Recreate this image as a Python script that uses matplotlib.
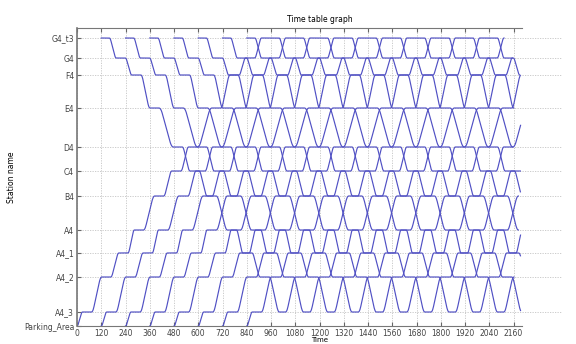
import numpy as np
import matplotlib
matplotlib.use("Agg")
import matplotlib.pyplot as plt

# stations, bottom to top, and their position along the line
stations = ['Parking_Area', 'A4_3', 'A4_2', 'A4_1', 'A4', 'B4', 'C4',
            'D4', 'E4', 'F4', 'G4', 'G4_t3']
station_pos = [0, 14, 49, 73, 96, 130, 155, 179, 218, 251, 268, 288]

# running time (s) between neighbouring stations, same both ways
run_times = [27, 50, 40, 32, 55, 40, 38, 70, 45, 32, 34]
dwell = 45          # stop at every intermediate station
turn_top = 87       # turnaround at G4_t3
turn_bottom = 31    # turnaround at A4_3
t_end = 2195

# trains leaving the parking area (up) and G4_t3 (down)
up_departures = [0, 120, 240, 360, 480, 600, 720, 840]
down_departures = [160, 280, 400, 520, 640, 760, 880]
first_wait = 40     # down trains sit at G4_t3 before leaving

xticks = list(range(0, 2161, 120))


def ease(u, a=0.25):
    # trapezoidal speed profile -> rounded corners at the stops
    out = np.empty_like(u)
    k = 2 * a * (1 - a)
    m1 = u < a
    m3 = u > 1 - a
    m2 = ~(m1 | m3)
    out[m1] = u[m1] ** 2 / k
    out[m2] = (u[m2] - a / 2) / (1 - a)
    out[m3] = 1 - (1 - u[m3]) ** 2 / k
    return out


def train_path(t0, start, wait=0):
    T, Y = [], []
    t = t0
    idx = start
    if wait:
        T += [t - wait, t]
        Y += [station_pos[idx]] * 2
    direction = 1 if start == 0 else -1
    while t < t_end:
        nxt = idx + direction
        rt = run_times[min(idx, nxt)]
        u = np.linspace(0, 1, 25)
        T += list(t + u * rt)
        Y += list(station_pos[idx] + ease(u) * (station_pos[nxt] - station_pos[idx]))
        t += rt
        idx = nxt
        if idx == len(stations) - 1:
            stop = turn_top
            direction = -1
        elif idx == 1 and direction == -1:
            stop = turn_bottom
            direction = 1
        else:
            stop = dwell
        T += [t, t + stop]
        Y += [station_pos[idx]] * 2
        t += stop
    T = np.array(T)
    Y = np.array(Y)
    keep = T <= t_end
    return T[keep], Y[keep]


fig = plt.figure(figsize=(5.76, 3.44), dpi=100)
ax = fig.add_axes([0.1337, 0.0523, 0.842, 0.8663])

for d in up_departures:
    tt, yy = train_path(d, 0)
    ax.plot(tt, yy, color='#5050c4', lw=0.85)
for d in down_departures:
    tt, yy = train_path(d, len(stations) - 1, wait=first_wait)
    ax.plot(tt, yy, color='#5050c4', lw=0.85)

ax.set_xlim(0, 2400)
ax.set_ylim(0, 298)
ax.set_xticks(xticks)
ax.set_xticklabels([str(v) for v in xticks], fontsize=5.5, color='#444444')
ax.set_yticks(station_pos)
ax.set_yticklabels(stations, fontsize=5.5, color='#444444')
ax.tick_params(direction='in', length=3, top=True, color='#666666', pad=2)

# dotted grid: vertical lines only over the ticked range
for v in xticks:
    ax.axvline(v, color='#c4c4c4', lw=0.6, ls=(0, (1.5, 1.5)), zorder=0)
for p in station_pos:
    ax.axhline(p, color='#c4c4c4', lw=0.6, ls=(0, (1.5, 1.5)), zorder=0)

ax.spines['right'].set_visible(False)
ax.spines['top'].set_bounds(0, 2200)
ax.spines['bottom'].set_bounds(0, 2200)
for s in ['left', 'top', 'bottom']:
    ax.spines[s].set_color('#777777')
ax.spines['left'].set_linewidth(1.2)

ax.set_title('Time table graph', fontsize=5.5, pad=4)
ax.set_xlabel('Time', fontsize=5)
ax.xaxis.set_label_coords(0.5, -0.038)
ax.set_ylabel('Station name', fontsize=5.5)
ax.yaxis.set_label_coords(-0.125, 0.5)

plt.savefig('out.png', dpi=100)
